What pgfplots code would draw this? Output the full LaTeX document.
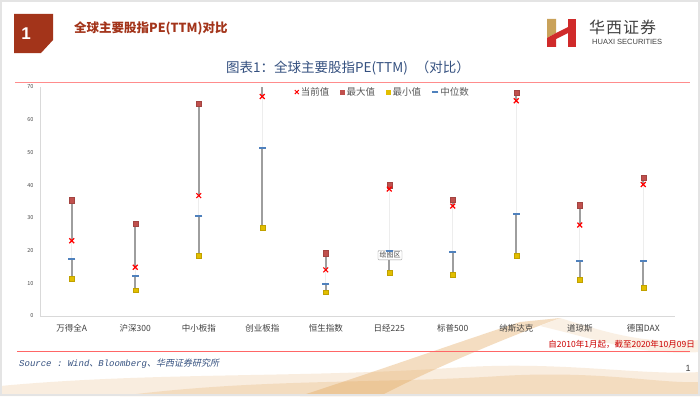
\documentclass[border=0pt]{standalone}
\usepackage{pgfplots}
\pgfplotsset{compat=1.18}
\usepackage{pgfplotstable}
\usepackage{fontspec}
\setmainfont{Noto Sans CJK SC}
\setmonofont{Liberation Mono}
\newfontfamily\cjk{Noto Sans CJK SC}
\newfontfamily\cjkit[FakeSlant=0.2]{Noto Sans CJK SC}
\newfontfamily\latin{Liberation Sans}

\definecolor{hdrRed}{HTML}{A3341A}
\definecolor{ttlNavy}{HTML}{34507F}
\definecolor{maxRed}{HTML}{C0504D}
\definecolor{minYel}{HTML}{E2BE00}
\definecolor{medBlue}{HTML}{4F81BD}
\definecolor{barGray}{HTML}{9E9E9E}
\definecolor{faint}{HTML}{EDEDED}
\definecolor{axGray}{HTML}{D9D9D9}
\definecolor{txtGray}{HTML}{404040}
\definecolor{logoGold}{HTML}{C9A25A}
\definecolor{logoRed}{HTML}{D02A2A}
\definecolor{swoosh}{HTML}{E0A050}

\pgfplotstableread{
idx maxv cur med minv
0 35.4 23.0 17.5 11.4
1 28.3 14.9 12.1 7.9
2 64.8 36.8 30.7 18.4
3 73.0 67.1 51.4 27.1
4 19.2 14.1 9.9 7.3
5 40.0 38.8 19.8 13.2
6 35.5 33.6 19.7 12.6
7 68.3 65.8 31.2 18.4
8 33.9 27.8 16.9 11.2
9 42.4 40.2 16.9 8.6
}\pe

\begin{document}
\begin{tikzpicture}
\useasboundingbox (0,0) rectangle (700pt,-396pt);
\begin{scope}[x=1pt,y=-1pt]
  % page frame
  \fill[white] (0,0) rectangle (700,396);
  % decorative swooshes at the bottom
  \fill[swoosh, opacity=0.18] (0,386) .. controls (150,372) and (300,378) .. (450,368) .. controls (560,360) and (640,376) .. (700,372) -- (700,396) -- (0,396) -- cycle;
  \fill[swoosh, opacity=0.22] (120,396) .. controls (260,378) and (380,384) .. (500,376) .. controls (600,370) and (660,384) .. (700,382) -- (700,396) -- cycle;
  \fill[swoosh, opacity=0.35] (300,396) .. controls (380,370) and (450,345) .. (520,322) -- (560,318) .. controls (500,340) and (430,370) .. (380,396) -- cycle;
  \fill[swoosh, opacity=0.15] (560,318) .. controls (600,330) and (640,345) .. (700,340) -- (700,352) .. controls (640,356) and (600,340) .. (540,326) -- cycle;
  \draw[axGray!70, line width=2pt] (1,1) rectangle (699,395);
  % header box "1"
  \fill[hdrRed] (14,14) -- (53,14) -- (53,40) -- (41,53) -- (14,53) -- cycle;
  \node[white, font=\latin\bfseries\fontsize{17}{17}\selectfont] at (26,34) {1};
  \node[anchor=west, hdrRed, font=\cjk\bfseries\fontsize{12.5}{13}\selectfont, inner sep=0] at (74,28) {全球主要股指PE(TTM)对比};
  % logo
  \fill[logoGold] (547,19) -- (556,19) -- (556,33) -- (547,38) -- cycle;
  \fill[logoRed] (547,38) -- (556,33) -- (556,47) -- (547,47) -- cycle;
  \fill[logoRed] (568,19) -- (576,19) -- (576,47) -- (568,47) -- cycle;
  \fill[logoRed] (556,33) -- (568,27) -- (568,33) -- (556,39) -- cycle;
  \node[anchor=west, txtGray, font=\cjk\fontsize{16}{16}\selectfont, inner sep=0] at (589,27) {华\hspace{1pt}西\hspace{1pt}证\hspace{1pt}券};
  \node[anchor=west, txtGray, font=\latin\fontsize{7.5}{8}\selectfont, inner sep=0] at (592,41.5) {HUAXI SECURITIES};
  % chart title
  \node[ttlNavy, font=\cjk\fontsize{13.5}{14}\selectfont, inner sep=0] at (348,68) {图表1：全球主要股指PE(TTM)\hspace{0.6em}（对比）};
  \draw[red!45, line width=0.9pt] (15,82) -- (690,82);
  % footer
  \node[anchor=east, red!80!black, font=\cjk\fontsize{8.5}{9}\selectfont, inner sep=0] at (695,344) {自2010年1月起，截至2020年10月09日};
  \draw[red!60, line width=0.9pt] (17,351) -- (690,351);
  \node[anchor=west, ttlNavy, font=\fontsize{9}{10}\selectfont, inner sep=0] at (19,364) {{\ttfamily\itshape Source : Wind}{\cjkit 、}{\ttfamily\itshape Bloomberg}{\cjkit 、华西证券研究所}};
  \node[txtGray, font=\latin\fontsize{9}{10}\selectfont, inner sep=0] at (688,368) {1};
\end{scope}

\begin{axis}[
  at={(40pt,-316pt)}, anchor=south west,
  scale only axis, width=635pt, height=229pt,
  xmin=-0.5, xmax=9.5, ymin=0, ymax=70,
  axis x line*=bottom, axis y line*=left,
  axis line style={axGray, line width=0.8pt, -},
  xtick={0,...,9},
  xticklabels={万得全A,沪深300,中小板指,创业板指,恒生指数,日经225,标普500,纳斯达克,道琼斯,德国DAX},
  xticklabel style={font=\cjk\fontsize{8.5}{9}\selectfont, txtGray, yshift=-5pt},
  ytick={0,10,...,70},
  yticklabel style={font=\fontsize{5.5}{6}\selectfont, black!70, xshift=-3pt},
  major tick length=0pt,
  /pgf/number format/assume math mode=true,
  clip=true,
  legend style={at={(0.54,0.978)}, anchor=center, draw=none, fill=none,
    font=\cjk\fontsize{9.5}{10}\selectfont, text=black!65, legend columns=4,
    /tikz/every even column/.append style={column sep=9pt}},
  legend cell align=left,
]
% faint line current -> median
\addplot[draw=none, mark=none, forget plot, error bars/.cd, y dir=minus, y explicit,
  error bar style={draw=faint, line width=1pt, solid}, error mark=none]
  table[x=idx, y=cur, y error expr=\thisrow{cur}-\thisrow{med}] {\pe};
% gray line max -> current
\addplot[draw=none, mark=none, forget plot, error bars/.cd, y dir=minus, y explicit,
  error bar style={draw=barGray, line width=1.8pt, solid}, error mark=none]
  table[x=idx, y=maxv, y error expr=\thisrow{maxv}-\thisrow{cur}] {\pe};
% gray line median -> min
\addplot[draw=none, mark=none, forget plot, error bars/.cd, y dir=minus, y explicit,
  error bar style={draw=barGray, line width=1.8pt, solid}, error mark=none]
  table[x=idx, y=med, y error expr=\thisrow{med}-\thisrow{minv}] {\pe};
% min
\addplot[only marks, forget plot, mark=square*, mark size=2.4pt, mark options={fill=minYel, draw=minYel!85!black, line width=0.3pt}]
  table[x=idx, y=minv] {\pe};
% median
\addplot[only marks, forget plot, color=medBlue, mark=-, mark size=3.6pt, mark options={draw=medBlue, line width=2pt}]
  table[x=idx, y=med] {\pe};
% max
\addplot[only marks, forget plot, mark=square*, mark size=2.6pt, mark options={fill=maxRed, draw=maxRed!85!black, line width=0.3pt}]
  table[x=idx, y=maxv] {\pe};
% current
\addplot[only marks, forget plot, color=red, mark=x, mark size=3.4pt, mark options={draw=red, line width=1.2pt}]
  table[x=idx, y=cur] {\pe};

\addlegendimage{only marks, mark=x, mark size=2.8pt, mark options={draw=red, line width=1pt}}
\addlegendentry{当前值}
\addlegendimage{only marks, mark=square*, mark size=2.2pt, mark options={fill=maxRed, draw=maxRed}}
\addlegendentry{最大值}
\addlegendimage{only marks, mark=square*, mark size=2.2pt, mark options={fill=minYel, draw=minYel}}
\addlegendentry{最小值}
\addlegendimage{only marks, mark=-, mark size=3.2pt, mark options={draw=medBlue, line width=1.6pt}}
\addlegendentry{中位数}

% tooltip artifact
\node[draw=black!40, fill=white, rounded corners=1pt, font=\cjk\fontsize{7}{8}\selectfont, text=black!70, inner sep=1.5pt, anchor=north west] at (axis cs:4.82,20.1) {绘图区};
\end{axis}
\end{tikzpicture}
\end{document}
